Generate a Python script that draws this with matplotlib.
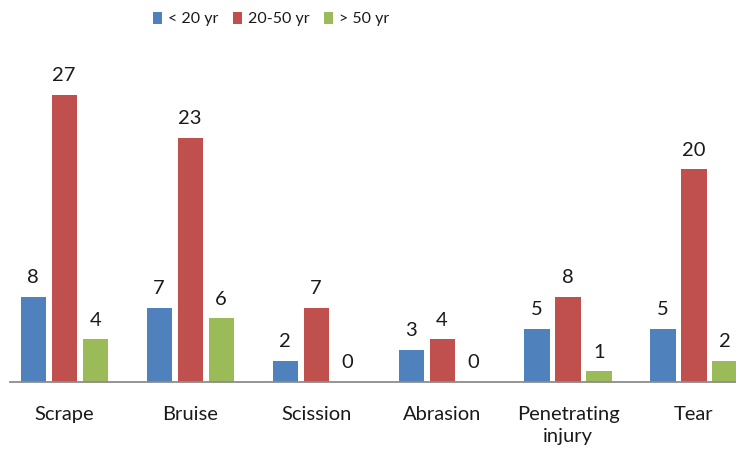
import numpy as np
import matplotlib
matplotlib.use('Agg')
from matplotlib import pyplot as plt

categories = ['Scrape', 'Bruise', 'Scission', 'Abrasion', 'Penetrating\ninjury', 'Tear']
series_names = ['< 20 yr', '20-50 yr', '> 50 yr']
under_20 = [8, 7, 2, 3, 5, 5]
from_20_to_50 = [27, 23, 7, 4, 8, 20]
over_50 = [4, 6, 0, 0, 1, 2]
colors = ['#4F81BD', '#C0504D', '#9BBB59']

plt.rcParams['font.family'] = ['Lato', 'DejaVu Sans']

fig = plt.figure(figsize=(7.36, 4.51), dpi=100)
W, H = 736, 451
# axes placed in pixel terms: baseline at y=382, top at y=60
ax = fig.add_axes([10 / W, 1 - 382 / H, (736 - 10) / W, (382 - 60) / H])

x = np.arange(len(categories))
width = 0.2
pitch = 0.246
for k, (vals, name) in enumerate(zip([under_20, from_20_to_50, over_50], series_names)):
    pos = x + (k - 1) * pitch
    ax.bar(pos, vals, width, color=colors[k], label=name, zorder=2)
    for p, v in zip(pos, vals):
        ax.text(p, v + 1.0, str(v), ha='center', va='bottom', fontsize=14.5, color='#1a1a1a')

ax.set_xlim(-0.43, 5.333)
ax.set_ylim(0, 30.3)
ax.set_yticks([])
ax.set_xticks(x)
ax.set_xticklabels(categories, fontsize=14.5, color='#1a1a1a', linespacing=1.35)
ax.tick_params(axis='x', length=0, pad=17)
for side in ['top', 'right', 'left']:
    ax.spines[side].set_visible(False)
ax.spines['bottom'].set_color('#8c8c8c')
ax.spines['bottom'].set_linewidth(1.3)

fig.legend(loc='center', bbox_to_anchor=(271 / W, 1 - 19 / H), ncol=3, frameon=False,
           fontsize=11.5, handlelength=0.6, handleheight=0.8, handletextpad=0.35,
           columnspacing=0.9, labelcolor='#1a1a1a')

plt.savefig('out.png', dpi=100)
plt.close()
